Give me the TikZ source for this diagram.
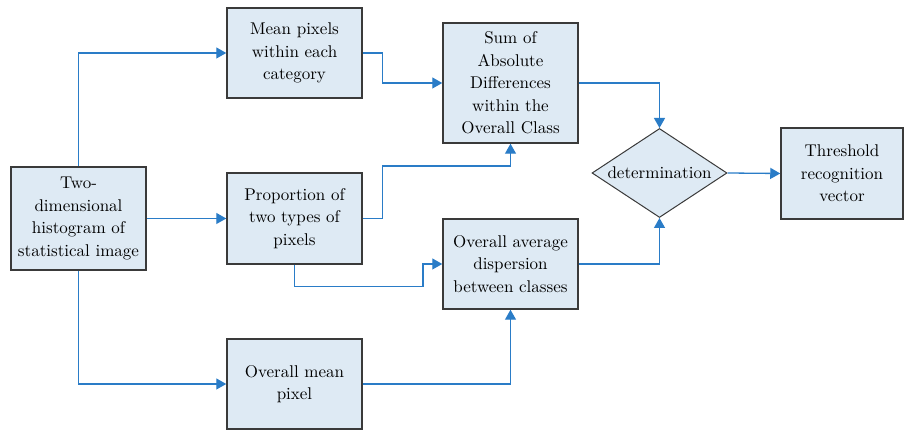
\documentclass[tikz,border=0pt]{standalone}
\usepackage{fontspec}
\newfontfamily\boxfont{lmroman10-regular.otf}
\usetikzlibrary{arrows.meta,shapes.geometric}

\definecolor{boxfill}{HTML}{DEEAF4}
\definecolor{boxline}{HTML}{3A3A3A}
\definecolor{flowblue}{HTML}{2A7CC7}

\begin{document}
\begin{tikzpicture}[x=1pt, y=1pt,
    box/.style={draw=boxline, line width=1.5pt, fill=boxfill, align=center,
      inner sep=0pt, font=\boxfont\fontsize{17}{22.5}\selectfont},
    flow/.style={draw=flowblue, line width=1.3pt,
      -{Triangle[length=10pt,width=11pt]}},
  ]
  \useasboundingbox (0,0) rectangle (905,430);

  % Input and intermediate boxes
  \node[box, minimum width=135pt, minimum height=103pt] (hist) at (78.5,211.5)
    {Two-\\dimensional\\histogram of\\statistical image};
  \node[box, minimum width=135pt, minimum height=90pt] (mean) at (294.5,377)
    {Mean pixels\\within each\\category};
  \node[box, minimum width=135pt, minimum height=91pt] (prop) at (294.5,211.5)
    {Proportion of\\two types of\\pixels};
  \node[box, minimum width=135pt, minimum height=90pt] (omean) at (294.5,46)
    {Overall mean\\pixel};
  \node[box, minimum width=135pt, minimum height=120pt] (sad) at (510.5,347)
    {Sum of\\Absolute\\Differences\\within the\\Overall Class};
  \node[box, minimum width=135pt, minimum height=90pt] (avg) at (510.5,166)
    {Overall average\\dispersion\\between classes};

  % Decision and output
  \node[box, shape=diamond, line width=1pt, aspect=1.52,
    minimum width=135pt, minimum height=89pt] (det) at (659.5,257) {determination};
  \node[box, minimum width=122pt, minimum height=91pt] (thr) at (842,256.5)
    {Threshold\\recognition\\vector};

  % Connectors
  \draw[flow] (hist.north) |- (mean.west);
  \draw[flow] (hist.east) -- (prop.west);
  \draw[flow] (hist.south) |- (omean.west);
  \draw[flow] (mean.east) -- ++(20,0) |- (sad.west);
  \draw[flow] (prop.east) -- ++(20,0) -- ++(0,52.5) -| (sad.south);
  \draw[flow] (prop.south) |- ++(128.5,-22) |- (avg.west);
  \draw[flow] (omean.east) -| (avg.south);
  \draw[flow] (sad.east) -| (det.north);
  \draw[flow] (avg.east) -| (det.south);
  \draw[flow] (det.east) -- (thr.west);
\end{tikzpicture}
\end{document}
